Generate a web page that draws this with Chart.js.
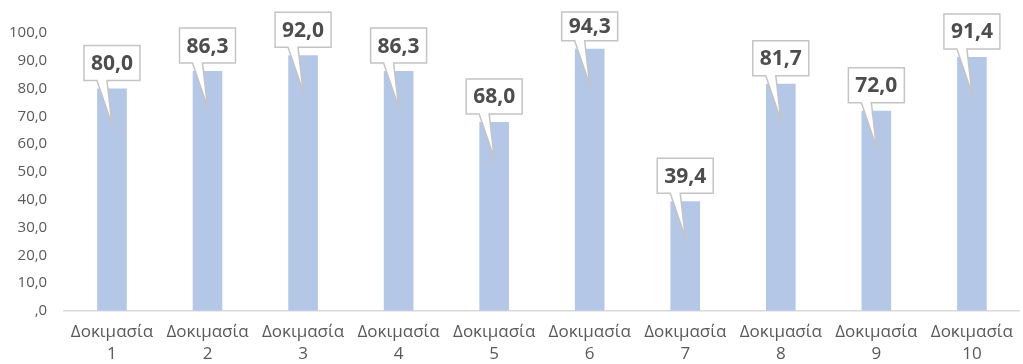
<!DOCTYPE html>
<html>
<head>
<meta charset="utf-8">
<script src="https://cdn.jsdelivr.net/npm/chart.js@4/dist/chart.umd.min.js"></script>
<style>
  html, body { margin: 0; padding: 0; background: #ffffff; }
  #wrap { width: 1023px; height: 364px; }
</style>
</head>
<body>
<div id="wrap"><canvas id="c" width="1023" height="364"></canvas></div>
<script>
// Test names (two-line labels) and the score of each test
const categories = [
  ['Δοκιμασία', '1'], ['Δοκιμασία', '2'], ['Δοκιμασία', '3'], ['Δοκιμασία', '4'], ['Δοκιμασία', '5'],
  ['Δοκιμασία', '6'], ['Δοκιμασία', '7'], ['Δοκιμασία', '8'], ['Δοκιμασία', '9'], ['Δοκιμασία', '10']
];
const scores = [80.0, 86.3, 92.0, 86.3, 68.0, 94.3, 39.4, 81.7, 72.0, 91.4];
const yTicks = [0, 10, 20, 30, 40, 50, 60, 70, 80, 90, 100];

// Greek-style decimal comma; zero shown as ",0"
function fmt(v) {
  const s = v.toFixed(1).replace('.', ',');
  return s.startsWith('0,') ? s.slice(1) : s;
}

// Speech-bubble value labels with a tail pointing into each bar
const calloutPlugin = {
  id: 'callouts',
  afterDatasetsDraw(chart) {
    const ctx = chart.ctx;
    const meta = chart.getDatasetMeta(0);
    ctx.save();
    meta.data.forEach((bar, i) => {
      const x = bar.x, y = bar.y;
      const w = 56, h = 35;
      const bottom = y - 8;
      const top = Math.max(bottom - h, 12);
      const left = x - w / 2, right = x + w / 2;
      const tipY = y + 36;
      ctx.beginPath();
      ctx.moveTo(left, top);
      ctx.lineTo(right, top);
      ctx.lineTo(right, bottom);
      ctx.lineTo(x - 5, bottom);
      ctx.lineTo(x, tipY);
      ctx.lineTo(x - 15, bottom);
      ctx.lineTo(left, bottom);
      ctx.closePath();
      ctx.fillStyle = '#ffffff';
      ctx.fill();
      ctx.lineWidth = 1.5;
      ctx.strokeStyle = '#c4c4c4';
      ctx.stroke();
      ctx.fillStyle = '#4d4d4d';
      ctx.font = 'bold 21px "Open Sans", "Liberation Sans", sans-serif';
      ctx.textAlign = 'center';
      ctx.textBaseline = 'middle';
      ctx.fillText(fmt(scores[i]), x, (top + bottom) / 2 + 1);
    });
    ctx.restore();
  }
};

new Chart(document.getElementById('c'), {
  type: 'bar',
  data: {
    labels: categories,
    datasets: [{
      data: scores,
      backgroundColor: '#b4c7e7',
      borderWidth: 0,
      categoryPercentage: 1,
      barPercentage: 0.31
    }]
  },
  options: {
    responsive: false,
    animation: false,
    devicePixelRatio: 1,
    layout: { padding: { top: 33, right: -11, bottom: -11, left: -8 } },
    plugins: {
      legend: { display: false },
      tooltip: { enabled: false }
    },
    scales: {
      x: {
        grid: { display: false, drawTicks: false },
        border: { display: true, color: '#d9d9d9', width: 1.5 },
        ticks: {
          color: '#595959',
          font: { size: 17, family: '"Open Sans", "Noto Sans", sans-serif', lineHeight: 1.3 },
          padding: 10,
          maxRotation: 0,
          autoSkip: false
        }
      },
      y: {
        min: 0,
        max: 100,
        afterBuildTicks(axis) { axis.ticks = yTicks.map(v => ({ value: v })); },
        grid: { display: false, drawTicks: false },
        border: { display: false },
        ticks: {
          color: '#595959',
          font: { size: 15, family: '"Open Sans", "Noto Sans", sans-serif' },
          padding: 17,
          callback: v => fmt(v)
        }
      }
    }
  },
  plugins: [calloutPlugin]
});
</script>
</body>
</html>
